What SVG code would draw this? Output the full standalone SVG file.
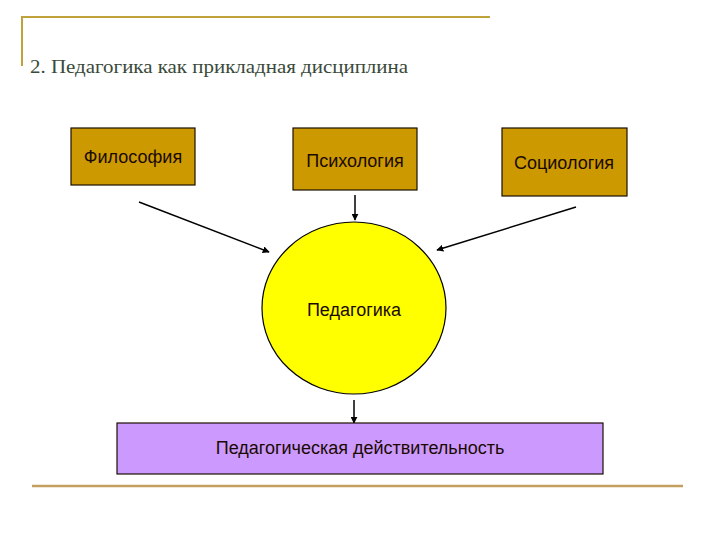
<svg xmlns="http://www.w3.org/2000/svg" width="720" height="540" viewBox="0 0 720 540">
<defs>
<style>
.box{stroke:#1a1000;stroke-width:1.2}
.lbl{font-family:"Liberation Sans",Arial,sans-serif;font-size:18px;fill:#1a0a00;text-anchor:middle}
.con{stroke:#000;stroke-width:1.5;fill:none;marker-end:url(#ah)}
</style>
<marker id="ah" viewBox="0 0 10 10" refX="9" refY="5" markerWidth="7" markerHeight="7" orient="auto" markerUnits="userSpaceOnUse">
<path d="M0,0 L10,5 L0,10 z" fill="#000"/>
</marker>
</defs>
<rect width="720" height="540" fill="#fff"/>
<g id="frame">
<line x1="22" y1="17" x2="490" y2="17" stroke="#BFA33A" stroke-width="2"/>
<line x1="22" y1="16" x2="22" y2="66" stroke="#BFA33A" stroke-width="2"/>
<line x1="32" y1="486" x2="683" y2="486" stroke="#C4A060" stroke-width="2.5"/>
<text x="30" y="73" font-family="'Liberation Serif','Times New Roman',serif" font-size="19" fill="#3a4a3a" textLength="378" lengthAdjust="spacingAndGlyphs">2. Педагогика как прикладная дисциплина</text>
</g>
<g id="connectors">
<line class="con" x1="139" y1="202" x2="269" y2="252"/>
<line class="con" x1="355" y1="195" x2="355" y2="220"/>
<line class="con" x1="576" y1="207" x2="437" y2="250"/>
<line class="con" x1="354" y1="400" x2="354" y2="423"/>
</g>
<g id="philosophy">
<rect class="box" x="71" y="128" width="124" height="57" fill="#CC9900"/>
<text class="lbl" x="133" y="163">Философия</text>
</g>
<g id="psychology">
<rect class="box" x="293" y="128" width="124" height="62" fill="#CC9900"/>
<text class="lbl" x="355" y="167">Психология</text>
</g>
<g id="sociology">
<rect class="box" x="502" y="128" width="125" height="68" fill="#CC9900"/>
<text class="lbl" x="564" y="169">Социология</text>
</g>
<g id="pedagogy">
<ellipse cx="354" cy="308" rx="92" ry="86" fill="#FFFF00" stroke="#000" stroke-width="1.2"/>
<text class="lbl" x="354" y="316">Педагогика</text>
</g>
<g id="reality">
<rect class="box" x="117" y="423" width="486" height="51" fill="#CC99FF"/>
<text class="lbl" x="360" y="454">Педагогическая действительность</text>
</g>
</svg>
